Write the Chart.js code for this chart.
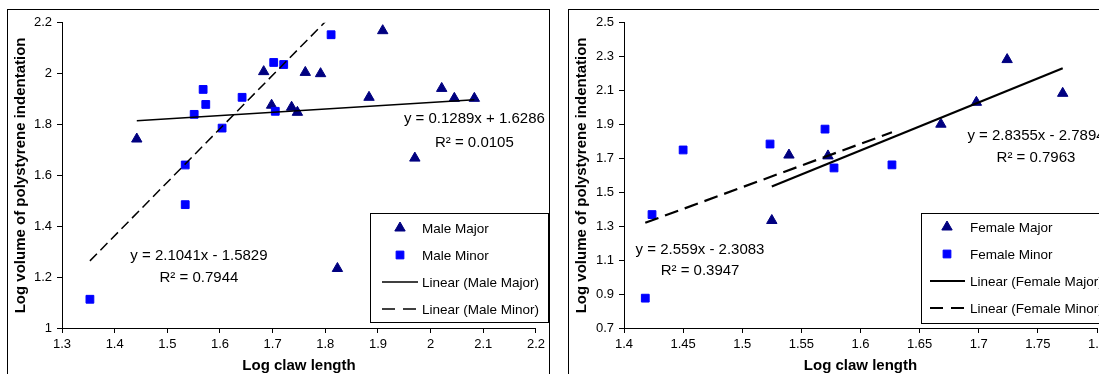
<!DOCTYPE html>
<html><head><meta charset="utf-8">
<script src="https://cdn.jsdelivr.net/npm/chart.js@4.4.1/dist/chart.umd.min.js"></script>
<style>
html,body{margin:0;padding:0;background:#fff;overflow:hidden;width:1099px;height:374px}
.frame{position:absolute;border:1px solid #000;background:#fff}
#f1{left:7px;top:9px;width:541px;height:367px}
#f2{left:568px;top:9px;width:550px;height:367px}
canvas{display:block}
</style></head><body>
<div class="frame" id="f1"><canvas id="c1" width="541" height="367"></canvas></div>
<div class="frame" id="f2"><canvas id="c2" width="550" height="367"></canvas></div>
<script>
// ---- data ----
const maleMajorX = [1.442, 1.683, 1.698, 1.736, 1.747, 1.762, 1.791, 1.823, 1.883, 1.909, 1.970, 2.021, 2.045, 2.083];
const maleMajorY = [1.743, 2.008, 1.876, 1.868, 1.848, 2.005, 2.000, 1.234, 1.907, 2.169, 1.668, 1.942, 1.903, 1.903];
const maleMinorX = [1.353, 1.534, 1.534, 1.551, 1.568, 1.573, 1.604, 1.642, 1.702, 1.705, 1.721, 1.811];
const maleMinorY = [1.113, 1.485, 1.641, 1.840, 1.938, 1.879, 1.786, 1.907, 2.044, 1.852, 2.036, 2.153];
const femaleMajorX = [1.525, 1.5395, 1.5725, 1.668, 1.698, 1.724, 1.771];
const femaleMajorY = [1.334, 1.720, 1.715, 1.902, 2.031, 2.283, 2.084];
const femaleMinorX = [1.418, 1.4237, 1.450, 1.5235, 1.570, 1.5776, 1.6266];
const femaleMinorY = [0.876, 1.369, 1.750, 1.785, 1.873, 1.644, 1.662];

// trendline coefficients shown on the chart
const maleMajorFit = [0.1289, 1.6286];
const maleMinorFit = [2.1041, -1.5829];
const femaleMajorFit = [2.8355, -2.7894];
const femaleMinorFit = [2.559, -2.3083];

const maleMajorEq = ['y = 0.1289x + 1.6286', 'R\u00B2 = 0.0105'];
const maleMinorEq = ['y = 2.1041x - 1.5829', 'R\u00B2 = 0.7944'];
const femaleMajorEq = ['y = 2.8355x - 2.7894', 'R\u00B2 = 0.7963'];
const femaleMinorEq = ['y = 2.559x - 2.3083', 'R\u00B2 = 0.3947'];

const leftXTicks = [1.3, 1.4, 1.5, 1.6, 1.7, 1.8, 1.9, 2.0, 2.1, 2.2];
const leftYTicks = [1.0, 1.2, 1.4, 1.6, 1.8, 2.0, 2.2];
const rightXTicks = [1.4, 1.45, 1.5, 1.55, 1.6, 1.65, 1.7, 1.75, 1.8];
const rightYTicks = [0.7, 0.9, 1.1, 1.3, 1.5, 1.7, 1.9, 2.1, 2.3, 2.5];

const xTitle = 'Log claw length';
const yTitle = 'Log volume of polystyrene indentation';
// -----------------------------------------

const FONT = "'Liberation Sans', Arial, sans-serif";
const NAVY = '#000080', BLUE = '#0000FF';

function pts(xs, ys) { return xs.map((x, i) => ({x: x, y: ys[i]})); }
function trend(xs, fit) {
  const lo = Math.min(...xs), hi = Math.max(...xs);
  return [{x: lo, y: fit[0] * lo + fit[1]}, {x: hi, y: fit[0] * hi + fit[1]}];
}
function fmt(v) { return String(+v.toFixed(2)); }

function axis(ticksArr, isX, title, sizeFix, tickPad) {
  const a = {
    type: 'linear',
    min: ticksArr[0], max: ticksArr[ticksArr.length - 1],
    afterBuildTicks: s => { s.ticks = ticksArr.map(v => ({value: v})); },
    ticks: {font: {family: FONT, size: 13}, color: '#000', padding: tickPad, maxRotation: 0, autoSkip: false, callback: v => fmt(v)},
    grid: {display: true, drawOnChartArea: false, drawTicks: true, tickLength: 5, color: '#000', lineWidth: 1},
    border: {display: true, color: '#000', width: 1},
    title: {display: true, text: title, color: '#000', font: {family: FONT, size: 15, weight: 'bold'},
            padding: isX ? {top: 0, bottom: 2} : {top: 4, bottom: 0}},
  };
  if (isX) a.afterFit = s => { s.height = sizeFix; };
  else a.afterFit = s => { s.width = sizeFix; };
  return a;
}

const overlay = {
  id: 'overlay',
  afterDraw(chart, args, o) {
    const ctx = chart.ctx;
    const xs = chart.scales.x, ys = chart.scales.y;
    ctx.save();
    // equations
    ctx.fillStyle = '#000';
    ctx.font = '15px ' + FONT;
    ctx.textAlign = 'center';
    ctx.textBaseline = 'middle';
    o.labels.forEach(l => {
      l.lines.forEach((t, i) => {
        ctx.fillText(t, xs.getPixelForValue(l.x), ys.getPixelForValue(l.y[i]));
      });
    });
    // legend
    const b = o.legend;
    ctx.fillStyle = '#fff';
    ctx.fillRect(b.left, b.top, b.width, b.height);
    ctx.strokeStyle = '#000';
    ctx.lineWidth = 1;
    ctx.strokeRect(b.left + 0.5, b.top + 0.5, b.width - 1, b.height - 1);
    ctx.font = '13.5px ' + FONT;
    ctx.textAlign = 'left';
    chart.data.datasets.forEach((d, i) => {
      const y = b.top + b.first + i * b.step;
      if (d.showLine) {
        ctx.save();
        ctx.strokeStyle = d.borderColor;
        ctx.lineWidth = d.borderWidth;
        ctx.setLineDash(d.borderDash && d.borderDash.length ? b.dash : []);
        ctx.beginPath();
        ctx.moveTo(b.left + b.lineX0, y);
        ctx.lineTo(b.left + b.lineX1, y);
        ctx.stroke();
        ctx.restore();
      } else {
        ctx.fillStyle = d.backgroundColor;
        ctx.strokeStyle = d.borderColor;
        ctx.lineWidth = d.borderWidth;
        Chart.helpers.drawPoint(ctx, {pointStyle: d.pointStyle, radius: d.pointRadius, borderWidth: d.borderWidth, rotation: 0}, b.left + b.symX, y);
      }
      ctx.fillStyle = '#000';
      ctx.fillText(d.label, b.left + b.textX, y + 1);
    });
    ctx.restore();
  }
};

function makeChart(id, sexLabel, majX, majY, minX, minY, majFit, minFit, xt, yt, cfg) {
  const datasets = [
    {label: sexLabel + ' Major', data: pts(majX, majY), pointStyle: 'triangle', pointRadius: 6,
     backgroundColor: NAVY, borderColor: NAVY, borderWidth: 1, order: 2},
    {label: sexLabel + ' Minor', data: pts(minX, minY), pointStyle: 'rect', pointRadius: 5.5,
     backgroundColor: BLUE, borderColor: BLUE, borderWidth: 1, order: 1},
    {label: 'Linear (' + sexLabel + ' Major)', data: trend(majX, majFit), showLine: true, pointRadius: 0,
     borderColor: '#000', backgroundColor: '#000', borderWidth: cfg.lw, fill: false, order: 0},
    {label: 'Linear (' + sexLabel + ' Minor)', data: trend(minX, minFit), showLine: true, pointRadius: 0,
     borderColor: '#000', backgroundColor: '#000', borderWidth: cfg.lw, borderDash: cfg.dash, fill: false, order: 0},
  ];
  return new Chart(document.getElementById(id), {
    type: 'scatter',
    data: {datasets: datasets},
    options: {
      responsive: false, animation: false, devicePixelRatio: 1,
      layout: {padding: {left: 0, top: cfg.padTop, right: cfg.padRight, bottom: 0}},
      scales: {
        x: axis(xt, true, xTitle, cfg.xh, 4),
        y: axis(yt, false, yTitle, cfg.yw, 5),
      },
      plugins: {
        legend: {display: false}, tooltip: {enabled: false},
        overlay: {labels: cfg.labels, legend: cfg.legend},
      },
    },
    plugins: [overlay],
  });
}

makeChart('c1', 'Male', maleMajorX, maleMajorY, maleMinorX, maleMinorY, maleMajorFit, maleMinorFit,
  leftXTicks, leftYTicks, {
    lw: 1.5, dash: [10, 5], padTop: 11, padRight: 10, xh: 49, yw: 54,
    labels: [
      {x: 2.083, y: [1.821, 1.727], lines: maleMajorEq},
      {x: 1.560, y: [1.285, 1.199], lines: maleMinorEq},
    ],
    legend: {left: 362, top: 203, width: 179, height: 110, first: 15, step: 27,
             symX: 30, textX: 52, lineX0: 12, lineX1: 48, dash: [13, 8]},
  });

makeChart('c2', 'Female', femaleMajorX, femaleMajorY, femaleMinorX, femaleMinorY, femaleMajorFit, femaleMinorFit,
  rightXTicks, rightYTicks, {
    lw: 2.2, dash: [14, 7], padTop: 11, padRight: 22, xh: 49, yw: 55,
    labels: [
      {x: 1.7484, y: [1.832, 1.703], lines: femaleMajorEq},
      {x: 1.4643, y: [1.1635, 1.0346], lines: femaleMinorEq},
    ],
    legend: {left: 352, top: 203, width: 200, height: 111, first: 14, step: 27,
             symX: 26, textX: 49, lineX0: 9, lineX1: 44, dash: [13, 8]},
  });
</script>
</body></html>
